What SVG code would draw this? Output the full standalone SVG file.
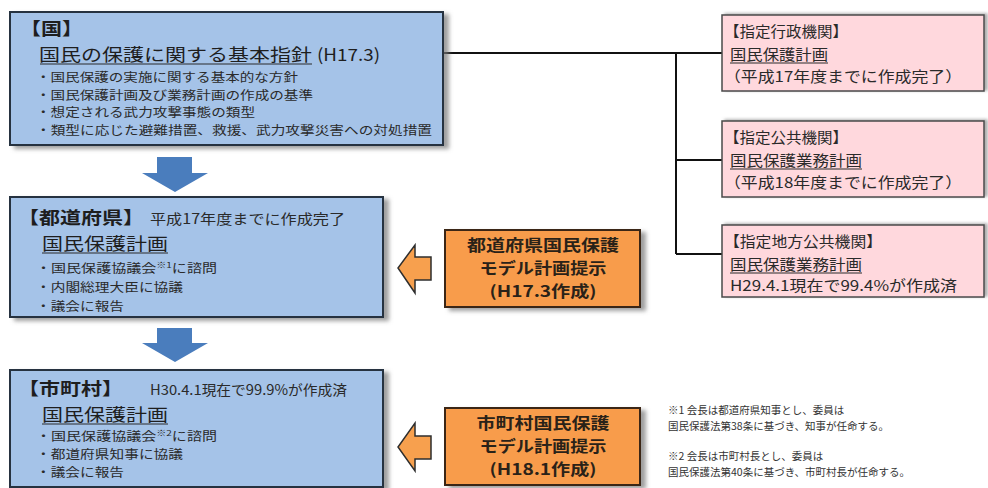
<svg xmlns="http://www.w3.org/2000/svg" width="988" height="488" viewBox="0 0 988 488">
<defs>
<filter id="sh" x="-5%" y="-5%" width="115%" height="120%">
<feDropShadow dx="5" dy="3" stdDeviation="2" flood-color="#777" flood-opacity="0.7"/>
</filter>
<filter id="sh2" x="-5%" y="-10%" width="115%" height="125%">
<feDropShadow dx="3" dy="-1" stdDeviation="1.5" flood-color="#777" flood-opacity="0.6"/>
</filter>
</defs>
<style>
text{font-family:"Noto Sans CJK JP","Noto Sans",sans-serif;fill:#1e1e1e}
.blue{fill:#a5c3e8;stroke:#25323f;stroke-width:2}
.orange{fill:#f89c4c;stroke:#3a2712;stroke-width:2}
.pink{fill:#ffd8dd;stroke:#4a4a4a;stroke-width:1.5}
.barrow{fill:#4a7dbd}
.oarrow{fill:#f7a04e;stroke:#2e2e2e;stroke-width:1.5}
.hd{font-size:17.5px;font-weight:bold}
.tt{font-size:17px}
.bl{font-size:12px;fill:#2a2a2a}
.sub{font-size:14px;fill:#2a2a2a}
.ot{font-size:15.5px;font-weight:bold;text-anchor:middle;fill:#2a2218}
.pt{font-size:15px;fill:#2a2a2a}
.fn{font-size:10.5px;fill:#333}
.ul{stroke:#2a2a2a;stroke-width:1.2}
.conn{stroke:#111;stroke-width:2;fill:none}
</style>

<g id="connectors">
<path class="conn" d="M443 53 H722 M676 53 V254 M676 160 H722 M676 254 H722"/>
<polygon class="barrow" points="157,157 192,157 192,173 208,173 175,192 142,173 157,173"/>
<polygon class="barrow" points="157,328 192,328 192,343 208,343 175,362 142,343 157,343"/>
<polygon class="oarrow" points="431,257 431,280 415,280 415,293 398,268 415,245 415,257"/>
<polygon class="oarrow" points="431,436 431,459 415,459 415,471 398,447 415,423 415,436"/>
</g>

<g id="kuni">
<rect class="blue" x="10" y="12" width="433" height="133" filter="url(#sh)"/>
<text class="hd" x="20" y="35" textLength="63" lengthAdjust="spacingAndGlyphs">【国】</text>
<text class="tt" x="39" y="61" textLength="273" lengthAdjust="spacingAndGlyphs">国民の保護に関する基本指針</text>
<text class="tt" x="317" y="61" textLength="63" lengthAdjust="spacingAndGlyphs">(H17.3)</text>
<line class="ul" x1="40" y1="64" x2="312" y2="64"/>
<text class="bl" x="36" y="82" textLength="262" lengthAdjust="spacingAndGlyphs">・国民保護の実施に関する基本的な方針</text>
<text class="bl" x="36" y="100" textLength="277" lengthAdjust="spacingAndGlyphs">・国民保護計画及び業務計画の作成の基準</text>
<text class="bl" x="36" y="117" textLength="219" lengthAdjust="spacingAndGlyphs">・想定される武力攻撃事態の類型</text>
<text class="bl" x="36" y="135" textLength="396" lengthAdjust="spacingAndGlyphs">・類型に応じた避難措置、救援、武力攻撃災害への対処措置</text>
</g>

<g id="todofuken">
<rect class="blue" x="10" y="197" width="373" height="120" filter="url(#sh)"/>
<text class="hd" x="18" y="224" textLength="126" lengthAdjust="spacingAndGlyphs">【都道府県】</text>
<text class="sub" x="150" y="224" textLength="195" lengthAdjust="spacingAndGlyphs">平成17年度までに作成完了</text>
<text class="tt" x="42" y="250" textLength="126" lengthAdjust="spacingAndGlyphs">国民保護計画</text>
<line class="ul" x1="42" y1="253" x2="168" y2="253"/>
<text class="bl" x="36" y="273" textLength="181" lengthAdjust="spacingAndGlyphs">・国民保護協議会<tspan font-size="8" dy="-5">※1</tspan><tspan dy="5">に諮問</tspan></text>
<text class="bl" x="36" y="292" textLength="147" lengthAdjust="spacingAndGlyphs">・内閣総理大臣に協議</text>
<text class="bl" x="36" y="311" textLength="88" lengthAdjust="spacingAndGlyphs">・議会に報告</text>
</g>

<g id="shichoson">
<rect class="blue" x="10" y="370" width="373" height="117" filter="url(#sh)"/>
<text class="hd" x="18" y="395" textLength="105" lengthAdjust="spacingAndGlyphs">【市町村】</text>
<text class="sub" x="150" y="395" textLength="197" lengthAdjust="spacingAndGlyphs">H30.4.1現在で99.9%が作成済</text>
<text class="tt" x="42" y="421" textLength="126" lengthAdjust="spacingAndGlyphs">国民保護計画</text>
<line class="ul" x1="42" y1="424" x2="168" y2="424"/>
<text class="bl" x="36" y="441" textLength="181" lengthAdjust="spacingAndGlyphs">・国民保護協議会<tspan font-size="8" dy="-5">※2</tspan><tspan dy="5">に諮問</tspan></text>
<text class="bl" x="36" y="459" textLength="147" lengthAdjust="spacingAndGlyphs">・都道府県知事に協議</text>
<text class="bl" x="36" y="477" textLength="88" lengthAdjust="spacingAndGlyphs">・議会に報告</text>
</g>

<g id="model-todofuken">
<rect class="orange" x="445" y="230" width="195" height="77" filter="url(#sh)"/>
<text class="ot" x="543" y="251" textLength="152" lengthAdjust="spacingAndGlyphs">都道府県国民保護</text>
<text class="ot" x="543" y="274" textLength="127" lengthAdjust="spacingAndGlyphs">モデル計画提示</text>
<text class="ot" x="543" y="297" textLength="107" lengthAdjust="spacingAndGlyphs">(H17.3作成)</text>
</g>

<g id="model-shichoson">
<rect class="orange" x="445" y="408" width="195" height="77" filter="url(#sh)"/>
<text class="ot" x="543" y="429" textLength="133" lengthAdjust="spacingAndGlyphs">市町村国民保護</text>
<text class="ot" x="543" y="452" textLength="127" lengthAdjust="spacingAndGlyphs">モデル計画提示</text>
<text class="ot" x="543" y="475" textLength="107" lengthAdjust="spacingAndGlyphs">(H18.1作成)</text>
</g>

<g id="shitei-gyosei">
<rect class="pink" x="722" y="15" width="262" height="76" filter="url(#sh2)"/>
<text class="pt" x="724" y="37" textLength="124" lengthAdjust="spacingAndGlyphs">【指定行政機関】</text>
<text class="pt" x="730" y="60" textLength="98" lengthAdjust="spacingAndGlyphs">国民保護計画</text>
<line class="ul" x1="730" y1="63" x2="828" y2="63"/>
<text class="pt" x="724" y="82" textLength="238" lengthAdjust="spacingAndGlyphs">（平成17年度までに作成完了）</text>
</g>

<g id="shitei-kokyo">
<rect class="pink" x="722" y="121" width="262" height="76" filter="url(#sh2)"/>
<text class="pt" x="724" y="143" textLength="124" lengthAdjust="spacingAndGlyphs">【指定公共機関】</text>
<text class="pt" x="730" y="166" textLength="132" lengthAdjust="spacingAndGlyphs">国民保護業務計画</text>
<line class="ul" x1="730" y1="169" x2="862" y2="169"/>
<text class="pt" x="724" y="188" textLength="238" lengthAdjust="spacingAndGlyphs">（平成18年度までに作成完了）</text>
</g>

<g id="shitei-chiho">
<rect class="pink" x="722" y="225" width="262" height="72" filter="url(#sh2)"/>
<text class="pt" x="724" y="247" textLength="158" lengthAdjust="spacingAndGlyphs">【指定地方公共機関】</text>
<text class="pt" x="730" y="270" textLength="132" lengthAdjust="spacingAndGlyphs">国民保護業務計画</text>
<line class="ul" x1="730" y1="273" x2="862" y2="273"/>
<text class="pt" x="730" y="291" textLength="227" lengthAdjust="spacingAndGlyphs">H29.4.1現在で99.4%が作成済</text>
</g>

<g id="footnotes">
<text class="fn" x="668" y="414">※1 会長は都道府県知事とし、委員は</text>
<text class="fn" x="668" y="430">国民保護法第38条に基づき、知事が任命する。</text>
<text class="fn" x="668" y="460">※2 会長は市町村長とし、委員は</text>
<text class="fn" x="668" y="476">国民保護法第40条に基づき、市町村長が任命する。</text>
</g>
</svg>
